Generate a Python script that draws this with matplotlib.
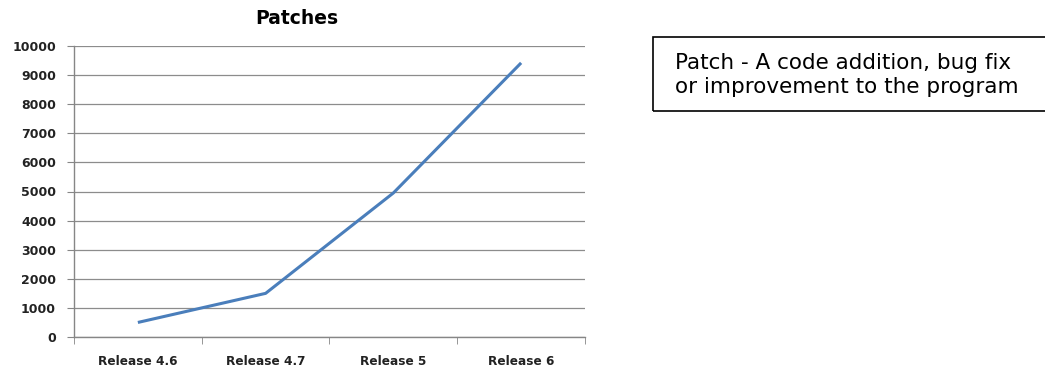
import matplotlib.pyplot as plt
from matplotlib.patches import Rectangle

releases = ["Release 4.6", "Release 4.7", "Release 5", "Release 6"]
patches = [500, 1500, 4950, 9420]
y_ticks = list(range(0, 10001, 1000))

W, H = 1045, 369
fig = plt.figure(figsize=(W / 100, H / 100), dpi=100)

# plot area in pixels: x 74..585, y 46..337
ax = fig.add_axes([74 / W, (H - 337) / H, 511 / W, 291 / H])
x = list(range(len(releases)))
ax.plot(x, patches, color="#4a7ebb", linewidth=2.2, solid_capstyle="butt")

ax.set_xlim(-0.5, len(releases) - 0.5)
ax.set_ylim(0, 10000)
ax.set_yticks(y_ticks)
ax.set_yticklabels([str(v) for v in y_ticks], fontsize=9, fontweight="bold", color="#222222")
ax.set_xticks(x)
ax.set_xticklabels(releases, fontsize=8.7, fontweight="bold", color="#222222")
ax.set_xticks([i - 0.5 for i in range(len(releases) + 1)], minor=True)
ax.tick_params(axis="x", which="major", length=0, pad=13)
ax.tick_params(axis="x", which="minor", length=5, color="#868686", direction="out")
ax.tick_params(axis="y", length=5, color="#868686", pad=8)
ax.grid(axis="y", color="#8c8c8c", linewidth=0.9)
ax.set_axisbelow(True)
for s in ["top", "right"]:
    ax.spines[s].set_visible(False)
for s in ["left", "bottom"]:
    ax.spines[s].set_color("#868686")
    ax.spines[s].set_linewidth(1)

fig.text(297 / W, 1 - 18 / H, "Patches", ha="center", va="center",
         fontsize=13.5, fontweight="bold")

# definition box, runs off the right edge
fig.patches.append(Rectangle((653 / W, 1 - 111 / H), 420 / W, 74 / H,
                             transform=fig.transFigure, fill=False,
                             edgecolor="black", linewidth=1.2))
fig.text(675 / W, 1 - 75 / H, "Patch - A code addition, bug fix\nor improvement to the program",
         ha="left", va="center", fontsize=15.5, linespacing=1.3)

fig.savefig("out.png", dpi=100)
